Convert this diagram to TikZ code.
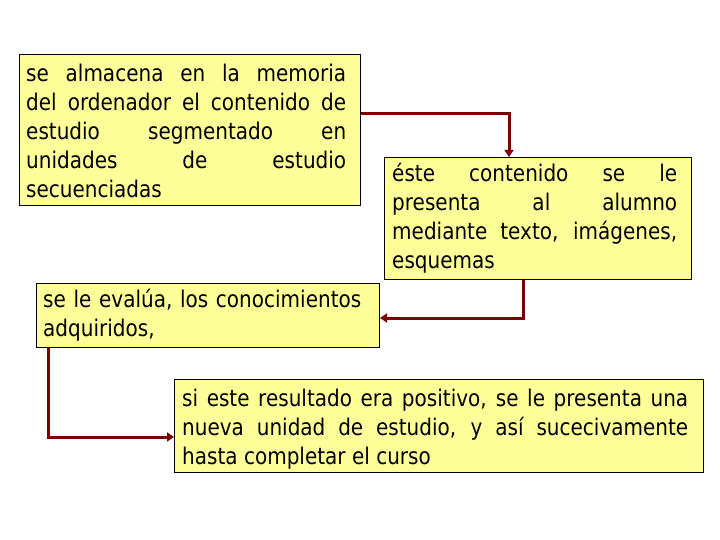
\documentclass[tikz,border=0pt]{standalone}
\usepackage{fontspec}
\setmainfont[FakeStretch=0.87]{DejaVu Sans}
\usetikzlibrary{arrows.meta}
\definecolor{arrowred}{HTML}{7F0000}
\definecolor{boxyellow}{HTML}{FFFF99}
\hyphenpenalty=10000
\exhyphenpenalty=10000
\tolerance=10000
\tikzset{
  box/.style={draw=black, line width=1pt, fill=boxyellow, inner sep=0pt, anchor=north west},
  txt/.style={inner sep=0pt, anchor=base west, font=\fontsize{23}{29}\selectfont},
  arr/.style={draw=arrowred, line width=3pt, -{Triangle[length=7pt,width=9pt]}}
}
\begin{document}
\begin{tikzpicture}[x=1pt,y=1pt]
\useasboundingbox (0,0) rectangle (720,-540);
% boxes
\node[box, minimum width=341pt, minimum height=151pt] (b1) at (19,-54) {};
\node[box, minimum width=307pt, minimum height=122pt] (b2) at (384,-157) {};
\node[box, minimum width=343pt, minimum height=64pt] (b3) at (36,-283) {};
\node[box, minimum width=529pt, minimum height=93pt] (b4) at (174,-379) {};
% texts
\node[txt, text width=320pt, align=justify] (t1) at (26,-82)
 {se almacena en la memoria\linebreak del ordenador el contenido de\linebreak estudio segmentado en\linebreak unidades de estudio\linebreak secuenciadas};
\node[txt, text width=285pt, align=justify] (t2) at (392,-182)
 {éste contenido se le\linebreak presenta al alumno\linebreak mediante texto, imágenes,\linebreak esquemas};
\node[txt, text width=334pt, align=left] (t3) at (43,-307)
 {se le evalúa, los conocimientos\\adquiridos,};
\node[txt, text width=506pt, align=justify] (t4) at (182,-406)
 {si este resultado era positivo, se le presenta una\linebreak nueva unidad de estudio, y así sucecivamente\linebreak hasta completar el curso};
% connectors
\coordinate (c1) at (509,-114);
\coordinate (c2) at (523,-318);
\coordinate (c3) at (48,-437);
\draw[arr] (b1.east |- c1) -| (b2.north -| c1);
\draw[arr] (b2.south -| c2) |- (b3.east |- c2);
\draw[arr] (b3.south -| c3) |- (b4.west |- c3);
\end{tikzpicture}
\end{document}
